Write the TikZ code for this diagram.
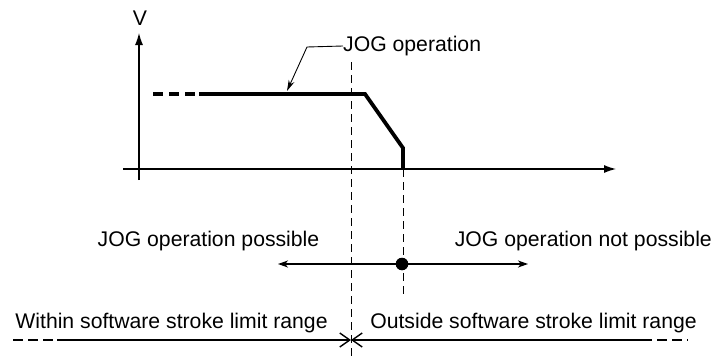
\documentclass[tikz,border=0pt]{standalone}
\usepackage{fontspec}
\setmainfont{Liberation Sans}
\usetikzlibrary{arrows.meta}
\begin{document}
\begin{tikzpicture}[x=1pt,y=-1pt,
  lbl/.style={inner sep=0pt,font=\fontsize{21.2}{25}\selectfont},
  axis/.style={line width=1.1pt,-{Latex[length=12pt,width=8pt]}},
  guide/.style={line width=0.9pt,dash pattern=on 8pt off 5pt},
  thick profile/.style={line width=3.8pt},
  rangearrow/.style={line width=1.6pt,-{Stealth[length=10pt,width=7pt,inset=3pt]}},
  limitarrow/.style={line width=1.6pt,-{Straight Barb[length=10pt,width=14pt,line width=1.4pt]}},
  tail/.style={line width=1.6pt,dash pattern=on 10pt off 5pt}]
\useasboundingbox (0,0) rectangle (713,356);
% axes
\coordinate (o) at (139,169);
\coordinate (vbot) at (139,180);
\coordinate (vtop) at (139,33);
\coordinate (hl) at (123,169);
\coordinate (hr) at (616,169);
\draw[axis] (vbot) -- (vtop);
\draw[axis] (hl) -- (hr);
\node[lbl] (V) at (140,18) {V};
% guide lines
\coordinate (g1t) at (351,62);
\coordinate (g1b) at (351,356);
\coordinate (g2t) at (403,169);
\coordinate (g2b) at (403,298);
\draw[guide] (g1t) -- (g1b);
\draw[guide] (g2t) -- (g2b);
% profile
\coordinate (p0) at (153,94);
\coordinate (p1) at (199,94);
\coordinate (p2) at (365,94);
\coordinate (p3) at (403,148);
\coordinate (p4) at (403,169);
\draw[thick profile,dash pattern=on 10pt off 6pt] (p0) -- (p1);
\draw[thick profile,line join=miter] (p1) -- (p2) -- (p3) -- (p4);
% leader
\node[lbl,anchor=west] (jog) at (343,46) {JOG operation};
\coordinate (lb) at (307,47);
\coordinate (lt) at (287,91);
\draw[line width=0.9pt,-{Stealth[length=11pt,width=6pt]}] (jog.west) -- (lb) -- (lt);
% possible / not possible
\node[lbl] (pos) at (208.5,241) {JOG operation possible};
\node[lbl,anchor=east] (npos) at (712,241) {JOG operation not possible};
\coordinate (dot) at (402,264);
\coordinate (al) at (278,264);
\coordinate (ar) at (528,264);
\draw[rangearrow] (dot) -- (al);
\draw[rangearrow] (dot) -- (ar);
\fill (dot) circle (6.3pt);
% software stroke limit range
\node[lbl] (within) at (171.5,323) {Within software stroke limit range};
\node[lbl] (outside) at (533.5,323) {Outside software stroke limit range};
\coordinate (lim) at (351,340);
\coordinate (wl0) at (13,340);
\coordinate (wl1) at (57,340);
\coordinate (or1) at (642,340);
\coordinate (or0) at (688,340);
\draw[tail] (wl0) -- (wl1);
\draw[limitarrow] (wl1) -- (lim);
\draw[tail] (or1) -- (or0);
\draw[limitarrow] (or1) -- (lim);
\end{tikzpicture}
\end{document}
